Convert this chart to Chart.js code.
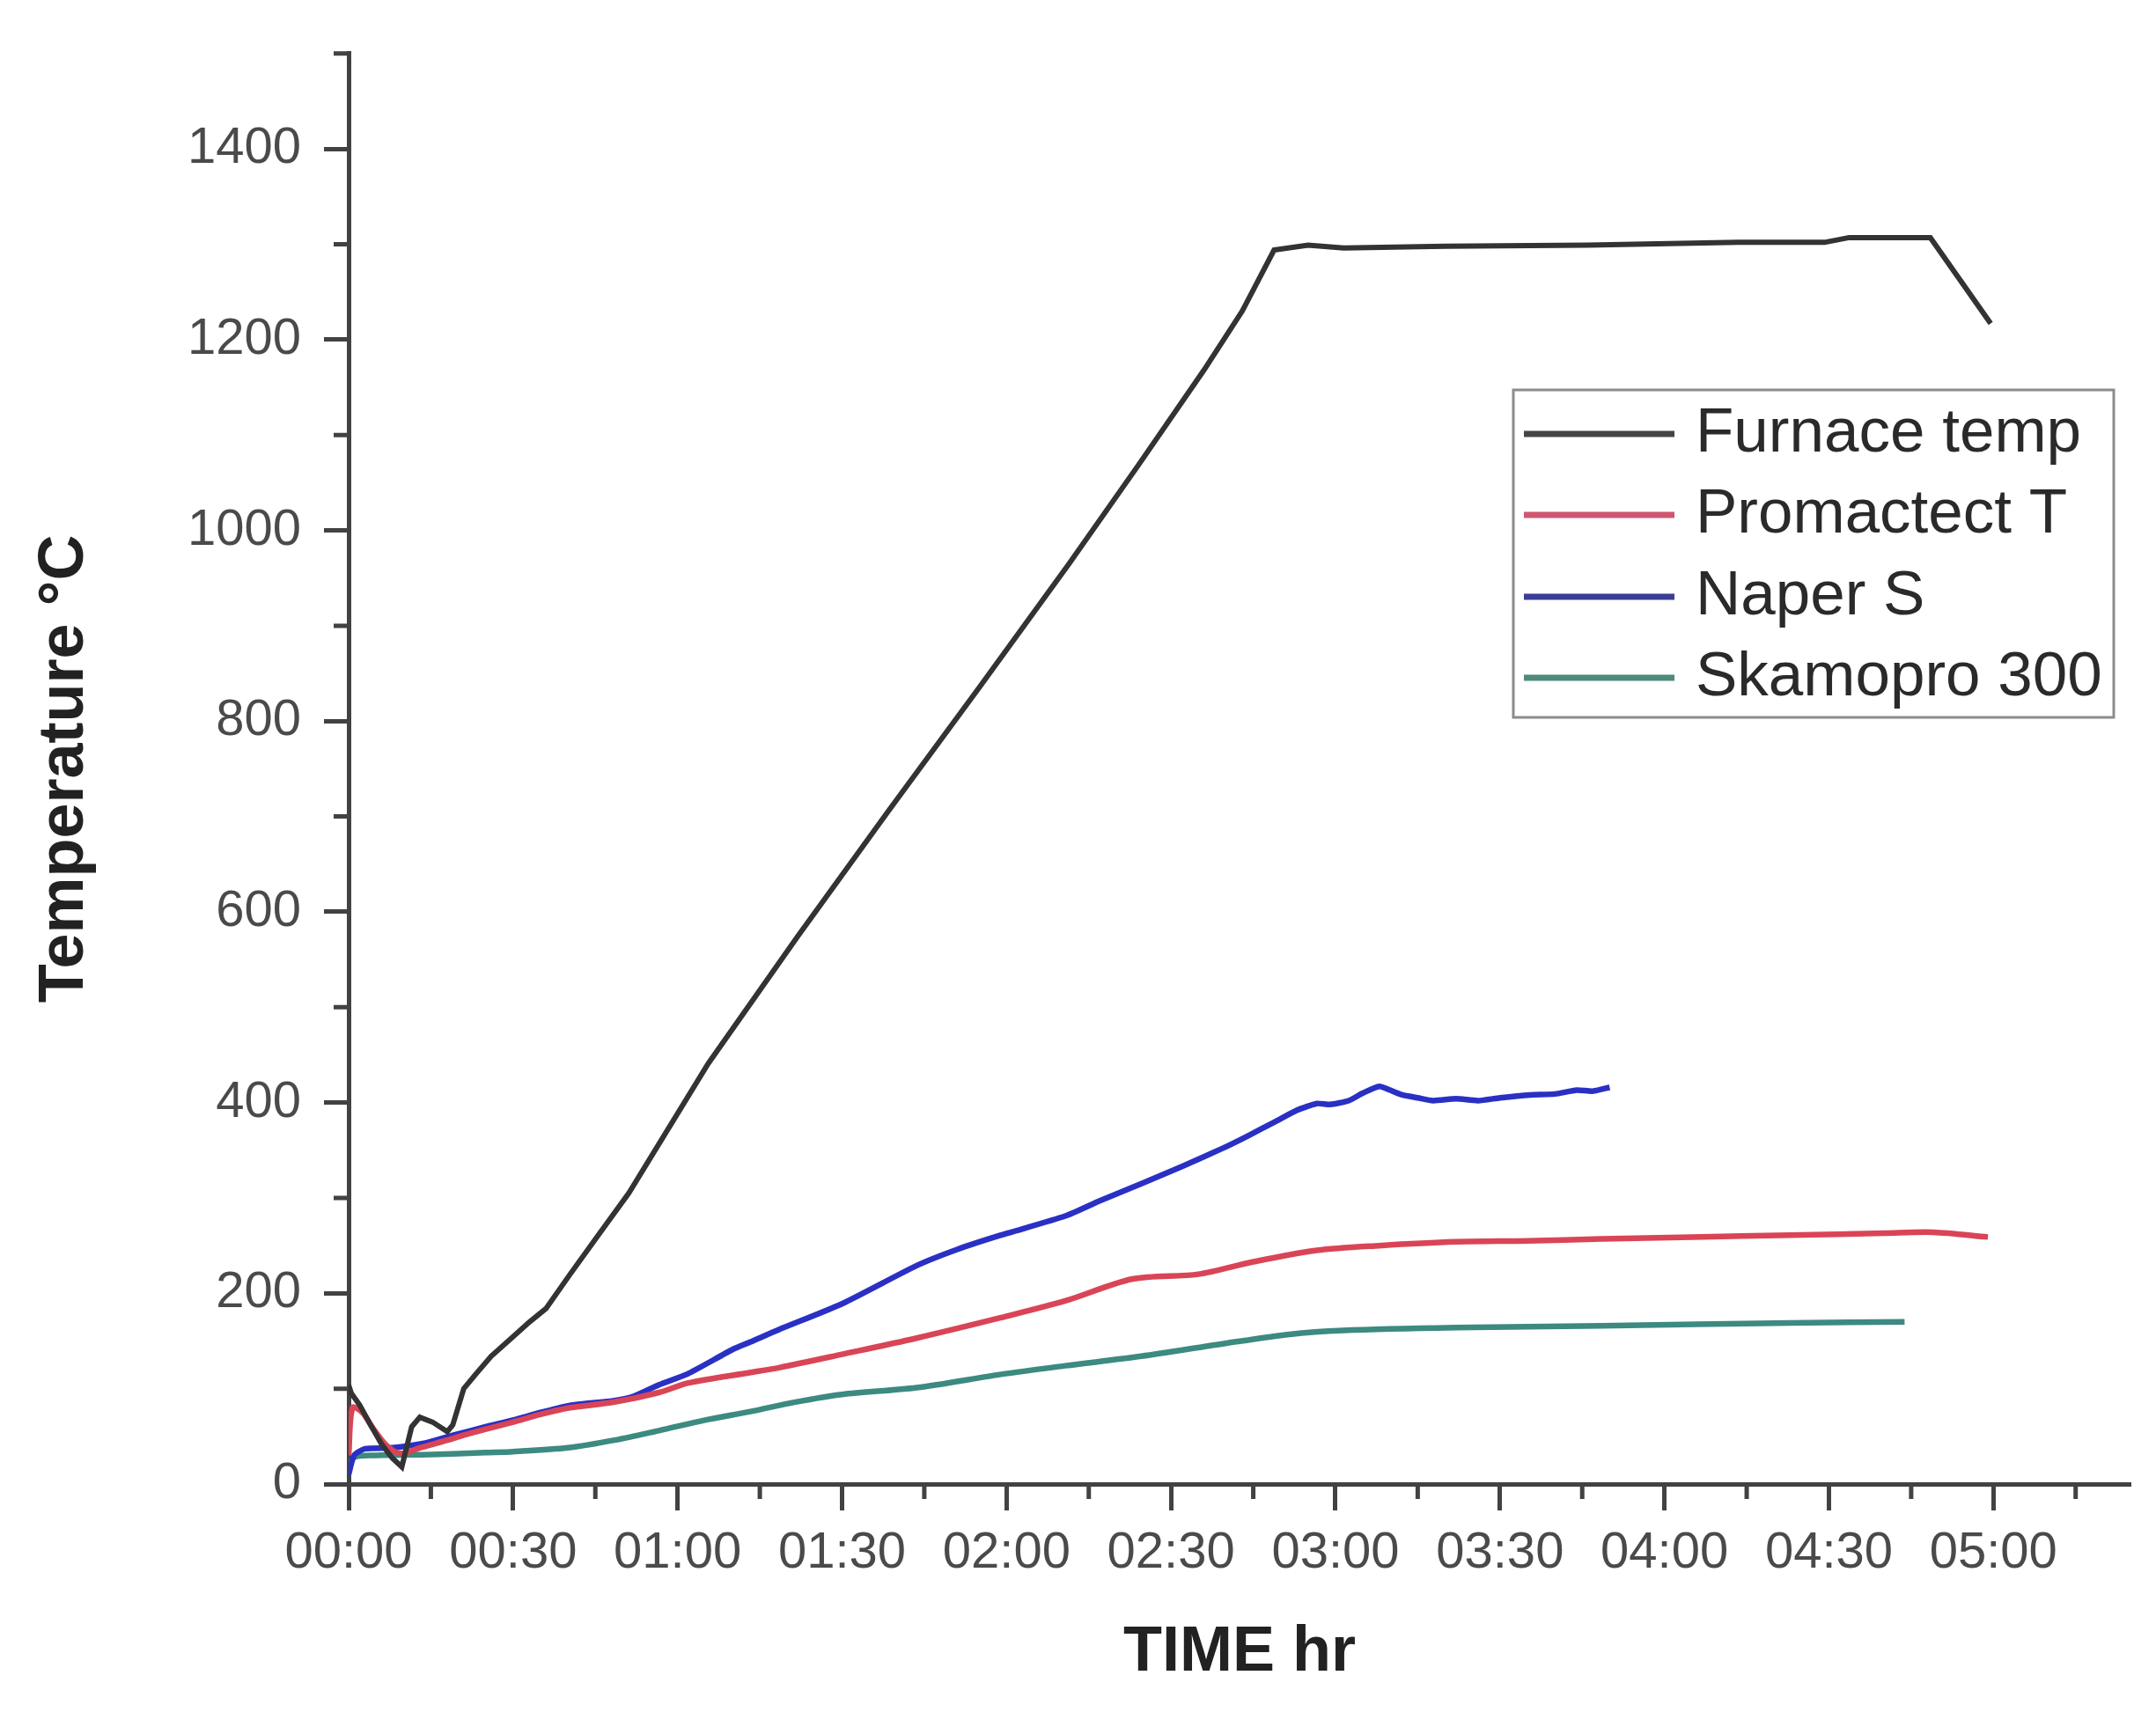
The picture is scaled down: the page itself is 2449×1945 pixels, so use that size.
<!DOCTYPE html>
<html>
<head>
<meta charset="utf-8">
<script src="https://cdn.jsdelivr.net/npm/chart.js@4.4.1/dist/chart.umd.min.js"></script>
<style>
  html, body { margin: 0; padding: 0; background: #ffffff; }
  #wrap { position: relative; width: 2449px; height: 1945px; }
</style>
</head>
<body>
<div id="wrap"><canvas id="c" width="2449" height="1945"></canvas></div>
<script>
// ---- Data (time in minutes, temperature in °C) ----
const seriesLabels = ["Furnace temp", "Promactect T", "Naper S", "Skamopro 300"];

const furnaceTime = [0, 0.5, 2, 4, 6, 8, 9.7, 11.5, 13, 15.3, 18, 19, 21, 23.3, 26, 29.7, 33, 36, 40.4, 45.8, 51.1, 65.6, 82, 98.5, 115, 131.4, 144, 156, 163, 168.8, 175, 181.5, 200, 225.9, 253.5, 269.2, 273.7, 288.5, 299.5];
const furnaceTemp = [104, 95, 83, 62, 42, 27, 18, 60, 70, 65, 55, 62, 100, 116, 134, 153, 170, 184, 220, 263, 305, 441, 575, 706, 835, 965, 1068, 1168, 1230, 1294, 1299, 1296, 1298, 1299, 1302, 1302, 1307, 1307, 1217];

const promaTime = [0, 0.7, 2.5, 4.5, 7, 9.5, 13, 18, 22, 26, 30, 35, 40.4, 48.5, 56.6, 62, 73.3, 78.5, 90, 103.6, 119, 130.7, 143, 155, 165, 176.6, 188, 202, 215, 228.5, 245, 263, 280, 289, 299];
const promaTemp = [30, 80, 75, 58, 40, 32, 38, 46, 53, 59, 65, 73, 80, 86, 96, 106, 117, 122, 136, 153, 174.5, 192, 215, 220, 233, 245, 250, 254, 255, 257, 259, 261, 263, 264, 259];

const naperTime = [0, 1, 3, 8, 14, 19, 25, 30, 35, 40, 44, 48, 52, 56.6, 62, 70, 73.3, 78.5, 90, 103.6, 111, 119, 130.7, 137, 144.6, 152, 159.4, 164, 169, 173, 176.6, 179, 182.4, 185, 188, 190, 192.2, 195, 197.8, 202, 206, 210, 215.5, 220, 224, 227, 230];
const naperTemp = [10, 30, 37, 38, 43, 51, 60, 67, 75, 82, 85, 87, 92, 104, 116, 141, 149, 162, 189, 229, 246, 261, 281, 297, 315, 333, 352, 365, 380, 392, 399, 398, 402, 410, 417, 413, 408, 405, 402, 404, 402, 405, 408, 409, 413, 412, 416];

const skamoTime = [0, 1, 5, 15, 25, 30, 40, 48.5, 56.6, 65, 73.3, 81.5, 90, 103.6, 119, 130.7, 144.6, 159.4, 171.6, 181.4, 202, 228.5, 263, 283.8];
const skamoTemp = [15, 28, 30, 31, 33, 34, 38, 46, 56, 67, 76, 86, 94, 101, 115, 124, 134, 147, 157, 161, 164, 166, 169, 170];

const xMajorTicks = [0, 30, 60, 90, 120, 150, 180, 210, 240, 270, 300];
const yMajorTicks = [0, 200, 400, 600, 800, 1000, 1200, 1400];

function pts(t, v) { return t.map((x, i) => ({ x: x, y: v[i] })); }
function fmtTime(m) {
  const h = Math.floor(m / 60), mm = Math.round(m % 60);
  return String(h).padStart(2, "0") + ":" + String(mm).padStart(2, "0");
}

const FONT = "'Liberation Sans', Arial, Helvetica, sans-serif";
const AXIS = "#424242";

// minor ticks drawn through the scales
const minorTicks = {
  id: "minorTicks",
  afterDraw(chart) {
    const ctx = chart.ctx;
    const xs = chart.scales.x, ys = chart.scales.y;
    ctx.save();
    ctx.strokeStyle = AXIS;
    ctx.lineWidth = 5;
    ctx.beginPath();
    for (let v = 15; v <= xs.max; v += 30) {
      const p = xs.getPixelForValue(v);
      ctx.moveTo(p, xs.top); ctx.lineTo(p, xs.top + 17);
    }
    for (let v = 100; v <= ys.max; v += 200) {
      const p = ys.getPixelForValue(v);
      ctx.moveTo(ys.right, p); ctx.lineTo(ys.right - 17, p);
    }
    ctx.stroke();
    ctx.restore();
  }
};

// boxed legend inside plot area
const boxLegend = {
  id: "boxLegend",
  afterDraw(chart) {
    const ctx = chart.ctx;
    const bx = 1719, by = 443, bw = 682, bh = 372;
    ctx.save();
    ctx.fillStyle = "#ffffff";
    ctx.fillRect(bx, by, bw, bh);
    ctx.strokeStyle = "#8c8c8c";
    ctx.lineWidth = 3;
    ctx.strokeRect(bx, by, bw, bh);
    const rows = [493, 585, 678, 770];
    chart.data.datasets.forEach((ds, i) => {
      const y = rows[i];
      ctx.strokeStyle = ds.legendColor || ds.borderColor;
      ctx.lineWidth = 7;
      ctx.beginPath();
      ctx.moveTo(1731, y); ctx.lineTo(1902, y);
      ctx.stroke();
      ctx.fillStyle = "#2a2a2a";
      ctx.font = "71px " + FONT;
      ctx.textBaseline = "middle";
      ctx.textAlign = "left";
      ctx.fillText(ds.label, 1926, y);
    });
    ctx.restore();
  }
};

new Chart(document.getElementById("c"), {
  type: "line",
  data: {
    datasets: [
      { label: seriesLabels[0], data: pts(furnaceTime, furnaceTemp), borderColor: "#333333", legendColor: "#444444", borderWidth: 6, tension: 0 },
      { label: seriesLabels[1], data: pts(promaTime, promaTemp), borderColor: "#d94556", legendColor: "#cf5570", borderWidth: 6.5, tension: 0.3 },
      { label: seriesLabels[2], data: pts(naperTime, naperTemp), borderColor: "#2a30c4", legendColor: "#3c3c96", borderWidth: 6.5, tension: 0.2 },
      { label: seriesLabels[3], data: pts(skamoTime, skamoTemp), borderColor: "#3c8a80", legendColor: "#4f8a7c", borderWidth: 6.5, tension: 0.3 }
    ]
  },
  options: {
    responsive: false,
    devicePixelRatio: 1,
    animation: false,
    elements: { point: { radius: 0 } },
    layout: { padding: { top: 44, right: 29, bottom: 0, left: 0 } },
    plugins: { legend: { display: false }, tooltip: { enabled: false } },
    scales: {
      x: {
        type: "linear",
        min: 0, max: 325,
        afterFit(s) { s.height = 259; },
        afterBuildTicks(s) { s.ticks = xMajorTicks.map(v => ({ value: v })); },
        ticks: {
          callback: v => fmtTime(v),
          font: { size: 58, family: FONT },
          color: "#4a4a4a",
          padding: 14,
          maxRotation: 0,
          autoSkip: false
        },
        grid: { display: true, drawOnChartArea: false, drawTicks: true, tickLength: 30, tickColor: AXIS, tickWidth: 5 },
        border: { display: true, color: AXIS, width: 5 },
        title: { display: true, text: "TIME hr", color: "#222222", font: { size: 72, weight: "bold", family: FONT }, padding: { top: 0, bottom: 24 } }
      },
      y: {
        type: "linear",
        min: 0, max: 1500,
        afterFit(s) { s.width = 396; },
        afterBuildTicks(s) { s.ticks = yMajorTicks.map(v => ({ value: v })); },
        ticks: {
          callback: v => String(v),
          font: { size: 58, family: FONT },
          color: "#4a4a4a",
          padding: 26
        },
        grid: { display: true, drawOnChartArea: false, drawTicks: true, tickLength: 28, tickColor: AXIS, tickWidth: 5 },
        border: { display: true, color: AXIS, width: 5 },
        title: { display: true, text: "Temperature °C", color: "#222222", font: { size: 72, weight: "bold", family: FONT }, padding: { top: 31, bottom: 0 } }
      }
    }
  },
  plugins: [minorTicks, boxLegend]
});
</script>
</body>
</html>
